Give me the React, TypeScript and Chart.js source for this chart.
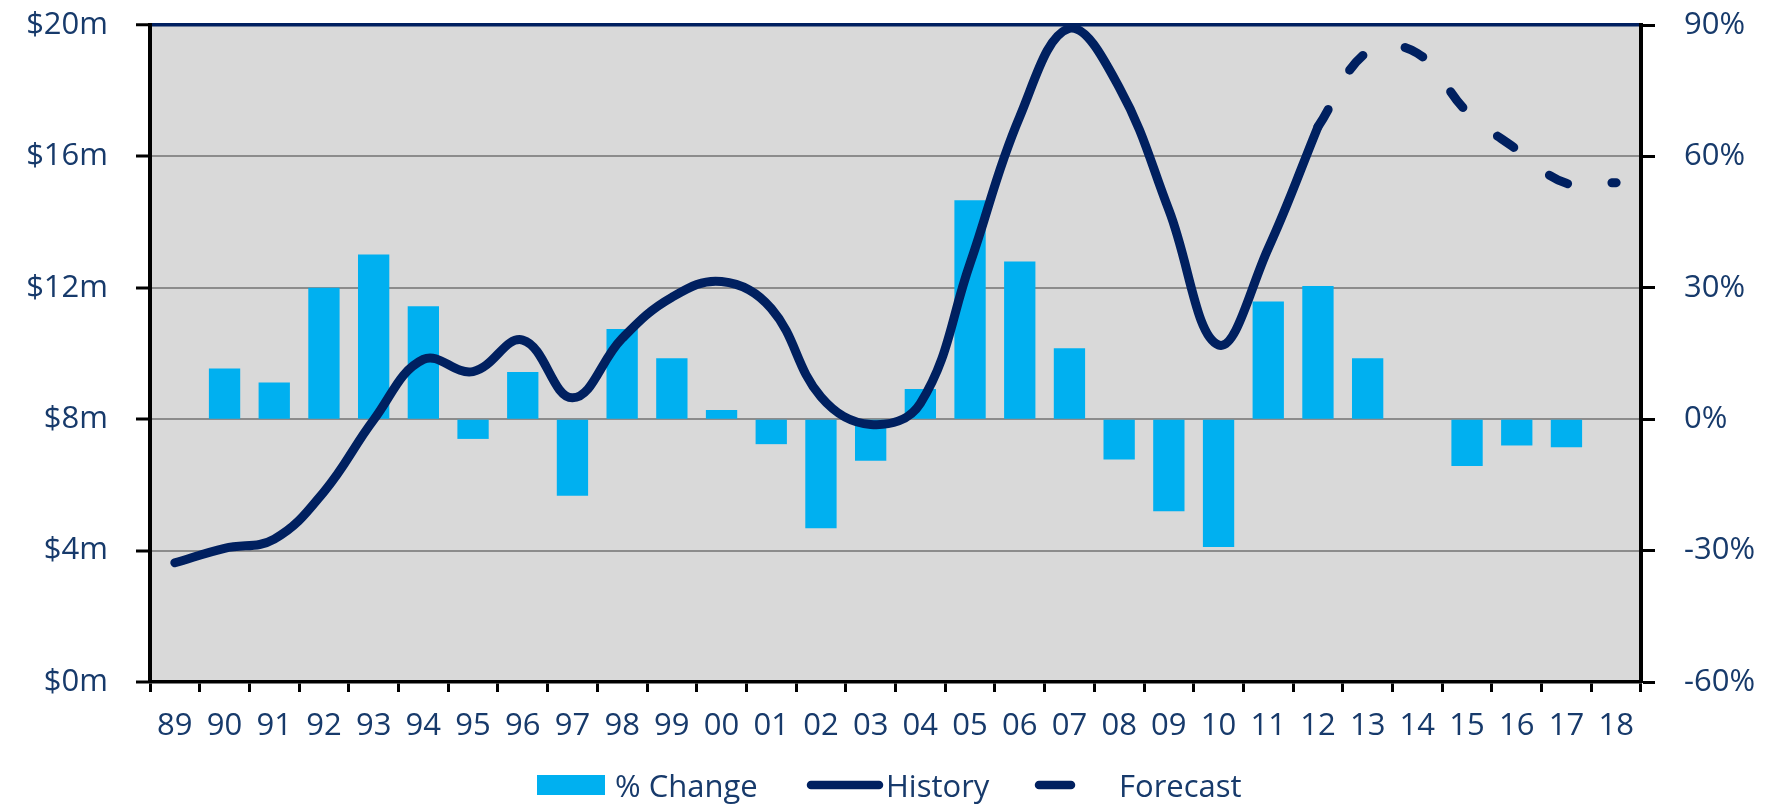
import React, { useEffect, useRef } from 'react';
import { Chart, registerables } from 'chart.js';

Chart.register(...registerables);

// ---------- data ----------
const categories: string[] = [
  '89', '90', '91', '92', '93', '94', '95', '96', '97', '98', '99',
  '00', '01', '02', '03', '04', '05', '06', '07', '08', '09', '10',
  '11', '12', '13', '14', '15', '16', '17', '18',
];

// % change (right axis)
const pctChange: (number | null)[] = [
  null, 11.6, 8.4, 30.0, 37.6, 25.8, -4.5, 10.8, -17.5, 20.6, 13.9,
  2.1, -5.7, -24.9, -9.5, 6.9, 50.0, 36.0, 16.2, -9.2, -21.0, -29.2,
  26.9, 30.4, 13.9, null, -10.7, -6.0, -6.4, null,
];

// History ($m, left axis)
const history: (number | null)[] = [
  3.63, 4.07, 4.35, 5.79, 7.98, 9.82, 9.45, 10.41, 8.65, 10.46, 11.71,
  12.19, 11.37, 8.68, 7.84, 8.48, 12.74, 17.21, 19.9, 18.1, 14.37, 10.26,
  13.2, 16.9, null, null, null, null, null, null,
];

// Forecast ($m, left axis)
const forecast: (number | null)[] = [
  null, null, null, null, null, null, null, null, null, null, null,
  null, null, null, null, null, null, null, null, null, null, null,
  null, 16.9, 19.19, 19.14, 17.36, 16.21, 15.18, 15.2,
];

const leftTickValues: number[] = [0, 4, 8, 12, 16, 20];
const rightTickValues: number[] = [-60, -30, 0, 30, 60, 90];
const legendLabels: string[] = ['% Change', 'History', 'Forecast'];

// ---------- styles ----------
const NAVY = '#002060';
const BAR = '#00B0F0';
const TEXT = '#173A6B';
const GRID = '#8C8C8C';
const PLOT_BG = '#D9D9D9';
const FONT = '"Open Sans", "DejaVu Sans", sans-serif';
const FONT_SIZE = 31;
const CANVAS_W = 1772;
const CANVAS_H = 797;

const plotBgPlugin = {
  id: 'plotBg',
  beforeDraw(chart: any) {
    const { ctx, chartArea: a } = chart;
    ctx.save();
    ctx.fillStyle = PLOT_BG;
    ctx.fillRect(a.left, a.top, a.right - a.left, a.bottom - a.top);
    ctx.restore();
  },
};

const legendPlugin = {
  id: 'customLegend',
  afterDraw(chart: any) {
    const ctx = chart.ctx;
    const cy = 777;
    const baseline = 788.5;
    ctx.save();
    ctx.font = `${FONT_SIZE}px ${FONT}`;
    ctx.textBaseline = 'alphabetic';
    ctx.textAlign = 'left';

    // % Change swatch
    ctx.fillStyle = BAR;
    ctx.fillRect(529, cy - 10, 68, 20);
    ctx.fillStyle = TEXT;
    ctx.fillText(legendLabels[0], 607, baseline);

    // History swatch
    ctx.strokeStyle = NAVY;
    ctx.lineWidth = 8.5;
    ctx.lineCap = 'round';
    ctx.beginPath();
    ctx.moveTo(803, cy);
    ctx.lineTo(871, cy);
    ctx.stroke();
    ctx.fillStyle = TEXT;
    ctx.fillText(legendLabels[1], 878, baseline);

    // Forecast swatch (one dash)
    ctx.beginPath();
    ctx.moveTo(1031, cy);
    ctx.lineTo(1063, cy);
    ctx.stroke();
    ctx.fillStyle = TEXT;
    ctx.fillText(legendLabels[2], 1111, baseline);
    ctx.restore();
  },
};

export default function App() {
  const canvasRef = useRef<HTMLCanvasElement | null>(null);

  useEffect(() => {
    const prevMargin = document.body.style.margin;
    document.body.style.margin = '0';
    if (!canvasRef.current) return;
    const tickFont = { family: FONT, size: FONT_SIZE };
    const chart = new Chart(canvasRef.current, {
      type: 'bar',
      data: {
        labels: categories,
        datasets: [
          {
            type: 'line',
            label: 'History',
            data: history,
            yAxisID: 'y',
            borderColor: NAVY,
            borderWidth: 9,
            borderCapStyle: 'round',
            borderJoinStyle: 'round',
            pointRadius: 0,
            pointHoverRadius: 0,
            tension: 0.4,
            fill: false,
            spanGaps: false,
            order: 0,
          } as any,
          {
            type: 'line',
            label: 'Forecast',
            data: forecast,
            yAxisID: 'y',
            borderColor: NAVY,
            borderWidth: 9,
            borderCapStyle: 'round',
            borderJoinStyle: 'round',
            borderDash: [20, 45],
            pointRadius: 0,
            pointHoverRadius: 0,
            tension: 0.4,
            fill: false,
            order: 0,
          } as any,
          {
            type: 'bar',
            label: '% Change',
            data: pctChange,
            yAxisID: 'y1',
            backgroundColor: BAR,
            borderWidth: 0,
            barPercentage: 0.63,
            categoryPercentage: 1,
            order: 1,
          } as any,
        ],
      },
      options: {
        animation: false,
        responsive: false,
        events: [],
        layout: { padding: { top: 17, left: 0, right: 0, bottom: 63 } },
        plugins: {
          legend: { display: false },
          tooltip: { enabled: false },
          title: { display: false },
        },
        scales: {
          x: {
            type: 'category',
            offset: true,
            grid: {
              offset: true,
              drawOnChartArea: false,
              drawTicks: true,
              tickLength: 10,
              tickColor: '#000',
              tickWidth: 3,
            },
            border: { display: true, color: '#000', width: 3.5 },
            ticks: {
              color: TEXT,
              font: tickFont,
              padding: 16,
              maxRotation: 0,
              autoSkip: false,
            },
            afterFit: (s: any) => {
              s.height = 60;
              s.paddingLeft = 0;
              s.paddingRight = 0;
            },
          },
          y: {
            position: 'left',
            min: 0,
            max: 20,
            afterBuildTicks: (s: any) => {
              s.ticks = leftTickValues.map((v) => ({ value: v }));
            },
            grid: {
              color: (c: any) =>
                c.tick && c.tick.value === 20 ? NAVY : c.tick && c.tick.value === 0 ? 'rgba(0,0,0,0)' : GRID,
              lineWidth: (c: any) => (c.tick && c.tick.value === 20 ? 3.5 : 2),
              tickColor: '#000',
              tickLength: 14,
              tickWidth: 3,
            },
            border: { display: true, color: '#000', width: 4 },
            ticks: {
              color: TEXT,
              font: tickFont,
              padding: 28,
              callback: (v: any) => `$${v}m`,
            },
            afterFit: (s: any) => {
              s.width = 142;
              s.paddingTop = 0;
              s.paddingBottom = 0;
            },
          },
          y1: {
            position: 'right',
            min: -60,
            max: 90,
            afterBuildTicks: (s: any) => {
              s.ticks = rightTickValues.map((v) => ({ value: v }));
            },
            grid: {
              drawOnChartArea: false,
              tickColor: '#000',
              tickLength: 14,
              tickWidth: 3,
            },
            border: { display: true, color: '#000', width: 4 },
            ticks: {
              color: TEXT,
              font: tickFont,
              padding: 29,
              callback: (v: any) => `${v}%`,
            },
            afterFit: (s: any) => {
              s.width = 139;
              s.paddingTop = 0;
              s.paddingBottom = 0;
            },
          },
        },
      } as any,
      plugins: [plotBgPlugin, legendPlugin],
    });
    return () => {
      chart.destroy();
      document.body.style.margin = prevMargin;
    };
  }, []);

  return (
    <div style={{ paddingLeft: 8, paddingTop: 8, width: CANVAS_W, height: CANVAS_H }}>
      <canvas ref={canvasRef} width={CANVAS_W} height={CANVAS_H} style={{ display: 'block' }} />
    </div>
  );
}
